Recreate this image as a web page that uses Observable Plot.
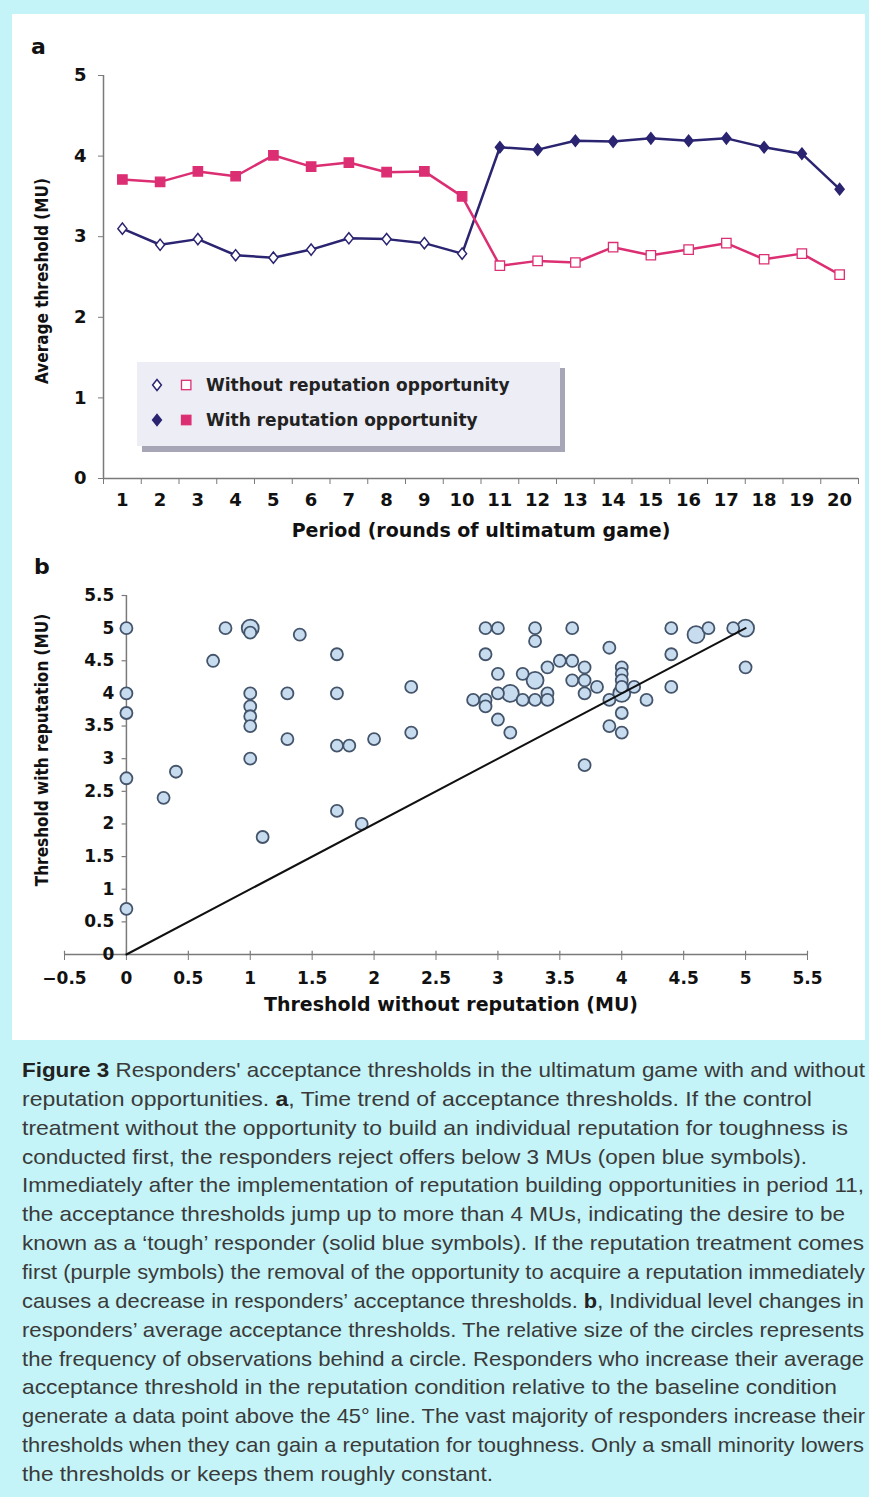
<!DOCTYPE html>
<html><head><meta charset="utf-8">
<script src="https://cdn.jsdelivr.net/npm/d3@7"></script>
<script src="https://cdn.jsdelivr.net/npm/@observablehq/plot@0.6"></script>
<style>
html,body{margin:0;padding:0}
body{width:869px;height:1497px;background:#c4f4f7;position:relative;overflow:hidden}
#white{position:absolute;left:12px;top:14px;width:853px;height:1026px;background:#fff}
.wrap{position:absolute;left:12px}
.plabel{position:absolute;font:bold 22px "DejaVu Sans",sans-serif;color:#111;line-height:1}
#legend{position:absolute;left:137px;top:362px;width:423px;height:84px;background:#ededf5;box-shadow:5px 6px 0 #a6a6b6}
#capwrap{position:absolute;left:0;top:1046px;width:869px;height:451px;overflow:hidden}
#caption{position:absolute;left:22px;top:10px;white-space:nowrap;font-family:"Liberation Sans",Arial,sans-serif;font-size:21px;line-height:28.86px;color:#3a3a3a}
#caption > div{height:28.86px}
#caption span{display:inline-block;transform-origin:0 50%}
#caption b{color:#222}
</style>
</head>
<body>
<div id="white"></div>
<div id="pa" class="wrap" style="top:14px"></div>
<div id="pb" class="wrap" style="top:545px"></div>
<div class="plabel" style="left:31px;top:36px">a</div>
<div class="plabel" style="left:34px;top:556px">b</div>
<div id="legend"></div>
<div id="capwrap"><div id="caption">
<div><span><b>Figure 3</b> Responders' acceptance thresholds in the ultimatum game with and without</span></div>
<div><span>reputation opportunities. <b>a</b>, Time trend of acceptance thresholds. If the control</span></div>
<div><span>treatment without the opportunity to build an individual reputation for toughness is</span></div>
<div><span>conducted first, the responders reject offers below 3 MUs (open blue symbols).</span></div>
<div><span>Immediately after the implementation of reputation building opportunities in period 11,</span></div>
<div><span>the acceptance thresholds jump up to more than 4 MUs, indicating the desire to be</span></div>
<div><span>known as a ‘tough’ responder (solid blue symbols). If the reputation treatment comes</span></div>
<div><span>first (purple symbols) the removal of the opportunity to acquire a reputation immediately</span></div>
<div><span>causes a decrease in responders’ acceptance thresholds. <b>b</b>, Individual level changes in</span></div>
<div><span>responders’ average acceptance thresholds. The relative size of the circles represents</span></div>
<div><span>the frequency of observations behind a circle. Responders who increase their average</span></div>
<div><span>acceptance threshold in the reputation condition relative to the baseline condition</span></div>
<div><span>generate a data point above the 45° line. The vast majority of responders increase their</span></div>
<div><span>thresholds when they can gain a reputation for toughness. Only a small minority lowers</span></div>
<div><span>the thresholds or keeps them roughly constant.</span></div>
</div></div>
<script>
// ---------- Panel a data ----------
const periods = [1,2,3,4,5,6,7,8,9,10,11,12,13,14,15,16,17,18,19,20];
// navy series: periods 1-10 without reputation (open), 11-20 with reputation (filled)
const navyValues = [3.10,2.90,2.97,2.77,2.74,2.84,2.98,2.97,2.92,2.79,4.11,4.08,4.19,4.18,4.22,4.19,4.22,4.11,4.03,3.59];
// pink series: periods 1-10 with reputation (filled), 11-20 without reputation (open)
const pinkValues = [3.71,3.68,3.81,3.75,4.01,3.87,3.92,3.80,3.81,3.50,2.64,2.70,2.68,2.87,2.77,2.84,2.92,2.72,2.79,2.53];
const yTicksA = [0,1,2,3,4,5];
const xTickMarksA = [0.5,1.5,2.5,3.5,4.5,5.5,6.5,7.5,8.5,9.5,10.5,11.5,12.5,13.5,14.5,15.5,16.5,17.5,18.5,19.5,20.5];
const legendLabels = ["Without reputation opportunity","With reputation opportunity"];

// ---------- Panel b data ----------
const bx = [0,0,0,0,0,0.3,0.4,0.7,0.8,1,1,1,1,1,1,1,1.1,1.3,1.3,1.4,1.7,1.7,1.7,1.8,1.7,1.9,2,2.3,2.3,
  2.9,3,3.3,3.3,3.6,2.9,3.9,3.0,3.2,3.4,3.5,3.6,3.7,3.6,3.7,3.3,3.8,2.8,2.9,2.9,3.0,3.1,3.2,3.3,3.4,3.4,3.7,3.9,3.0,3.1,3.9,4.0,4.0,3.7,
  4.0,4.0,4.0,4.0,4.0,4.1,4.2,4.4,4.6,4.7,4.9,5,5,4.4,4.4];
const by = [5,4,3.7,2.7,0.7,2.4,2.8,4.5,5,4.93,5,4,3.8,3.65,3.5,3,1.8,4,3.3,4.9,4.6,4,3.2,3.2,2.2,2,3.3,4.1,3.4,
  5,5,5,4.8,5,4.6,4.7,4.3,4.3,4.4,4.5,4.5,4.4,4.2,4.2,4.2,4.1,3.9,3.9,3.8,4.0,4.0,3.9,3.9,4.0,3.9,4.0,3.9,3.6,3.4,3.5,3.7,3.4,2.9,
  4.4,4.3,4.2,4.1,4.0,4.1,3.9,5,4.9,5,5,5,4.4,4.6,4.1];
const bn = [1,1,1,1,1,1,1,1,1,1,2,1,1,1,1,1,1,1,1,1,1,1,1,1,1,1,1,1,1,
  1,1,1,1,1,1,1,1,1,1,1,1,1,1,1,2,1,1,1,1,1,2,1,1,1,1,1,1,1,1,1,1,1,1,
  1,1,1,1,2,1,1,1,2,1,1,2,1,1,1];
const diagonal = [0,5];
const yTicksB = [0,0.5,1,1.5,2,2.5,3,3.5,4,4.5,5,5.5];
const xTicksB = [-0.5,0,0.5,1,1.5,2,2.5,3,3.5,4,4.5,5,5.5];

const NAVY = "#2a2471", PINK = "#dc2f73", AXIS = "#7a7a7a";
const FONT = "DejaVu Sans, sans-serif";
const COND = "DejaVu Sans Condensed, DejaVu Sans, sans-serif";

const wideDiamond = {draw(ctx, size){ const a = Math.sqrt(size/1.6), b = a*0.8;
  ctx.moveTo(0,-a); ctx.lineTo(b,0); ctx.lineTo(0,a); ctx.lineTo(-b,0); ctx.closePath(); }};

const navy = periods.map((p,i)=>({period:p, value:navyValues[i], filled:p>10}));
const pink = periods.map((p,i)=>({period:p, value:pinkValues[i], filled:p<=10}));
const fmt = d => String(d).replace("-", "\u2212");

const plotA = Plot.plot({
  width: 853, height: 531,
  marginLeft: 91, marginRight: 7, marginTop: 61, marginBottom: 67,
  x: {domain: [0.5, 20.5]},
  y: {domain: [0, 5]},
  color: {type: "identity"},
  style: {background: "transparent", overflow: "visible", fontFamily: FONT, fontSize: "18px", fontWeight: "bold", color: "#111"},
  marks: [
    Plot.ruleX([0.5], {y1: 0, y2: 5, stroke: AXIS, strokeWidth: 1.5}),
    Plot.ruleY([0], {stroke: AXIS, strokeWidth: 1.5}),
    Plot.axisY({ticks: yTicksA, tickSize: 5, tickPadding: 12, tickFormat: fmt, stroke: AXIS, fill: "#111", label: null}),
    Plot.axisX({ticks: xTickMarksA, tickSize: 6, tickFormat: () => "", stroke: AXIS, label: null}),
    Plot.axisX({ticks: periods, tickSize: 0, tickPadding: 15, fill: "#111", label: null}),
    Plot.text(["Average threshold (MU)"], {frameAnchor: "left", dx: -61, dy: 4, rotate: -90, fontSize: 17, fontFamily: COND, fill: "#111", textAnchor: "middle", lineAnchor: "middle"}),
    Plot.text(["Period (rounds of ultimatum game)"], {frameAnchor: "bottom", dx: 0, dy: 52, fontSize: 19, fill: "#111", textAnchor: "middle", lineAnchor: "middle"}),
    Plot.line(navy, {x: "period", y: "value", stroke: NAVY, strokeWidth: 2.5}),
    Plot.line(pink, {x: "period", y: "value", stroke: PINK, strokeWidth: 2.5}),
    Plot.dot(navy, {x: "period", y: "value", symbol: wideDiamond, r: 4, fill: d => d.filled ? NAVY : "white", stroke: NAVY, strokeWidth: 1.5}),
    Plot.dot(pink, {x: "period", y: "value", symbol: "square", r: 5.3, fill: d => d.filled ? PINK : "white", stroke: PINK, strokeWidth: 1.3})
  ]
});
document.getElementById("pa").appendChild(plotA);

const scatter = bx.map((x,i)=>({x, y: by[i], n: bn[i]}));
const plotB = Plot.plot({
  width: 853, height: 495,
  marginLeft: 52, marginRight: 58, marginTop: 50, marginBottom: 86,
  x: {domain: [-0.5, 5.5]},
  y: {domain: [0, 5.5], axis: null},
  r: {type: "sqrt", domain: [0, 2], range: [0, 8.5]},
  style: {background: "transparent", overflow: "visible", fontFamily: FONT, fontSize: "17px", fontWeight: "bold", color: "#111"},
  marks: [
    Plot.ruleY([0], {stroke: AXIS, strokeWidth: 1.5}),
    Plot.ruleX([0], {y1: 0, y2: 5.5, stroke: AXIS, strokeWidth: 1.5}),
    Plot.ruleY(yTicksB, {y: d => d, x1: -0.035, x2: 0, stroke: AXIS, strokeWidth: 1.2}),
    Plot.text(yTicksB, {x: 0, y: d => d, text: fmt, dx: -12, textAnchor: "end", fill: "#111"}),
    Plot.axisX({ticks: xTicksB, tickSize: 6, tickPadding: 11, tickFormat: fmt, stroke: AXIS, fill: "#111", label: null}),
    Plot.ruleX(xTicksB, {x: d => d, y1: 0, y2: 0.05, stroke: AXIS, strokeWidth: 1.2}),
    Plot.text(["Threshold with reputation (MU)"], {frameAnchor: "left", dx: -22, dy: -25, rotate: -90, fontSize: 17, fontFamily: COND, fill: "#111", textAnchor: "middle", lineAnchor: "middle"}),
    Plot.text(["Threshold without reputation (MU)"], {frameAnchor: "bottom", dx: 15, dy: 50, fontSize: 19, fill: "#111", textAnchor: "middle", lineAnchor: "middle"}),
    Plot.dot(scatter, {x: "x", y: "y", r: "n", fill: "#c8dcf0", stroke: "#44546a", strokeWidth: 1.8}),
    Plot.line(diagonal, {x: d => d, y: d => d, stroke: "#111", strokeWidth: 2})
  ]
});
document.getElementById("pb").appendChild(plotB);

// ---------- Legend ----------
const NS = "http://www.w3.org/2000/svg";
const lg = document.createElementNS(NS, "svg");
lg.setAttribute("width", 423); lg.setAttribute("height", 84);
const rows = [{y: 23, filled: false, label: legendLabels[0]}, {y: 58, filled: true, label: legendLabels[1]}];
rows.forEach(r => {
  const dm = document.createElementNS(NS, "path");
  dm.setAttribute("d", `M20,${r.y-5.5}L24.4,${r.y}L20,${r.y+5.5}L15.6,${r.y}Z`);
  dm.setAttribute("fill", r.filled ? NAVY : "white"); dm.setAttribute("stroke", NAVY); dm.setAttribute("stroke-width", 1.5);
  lg.appendChild(dm);
  const sq = document.createElementNS(NS, "rect");
  sq.setAttribute("x", 44.5); sq.setAttribute("y", r.y-4.7); sq.setAttribute("width", 9.4); sq.setAttribute("height", 9.4);
  sq.setAttribute("fill", r.filled ? PINK : "white"); sq.setAttribute("stroke", PINK); sq.setAttribute("stroke-width", 1.3);
  lg.appendChild(sq);
  const t = document.createElementNS(NS, "text");
  t.setAttribute("x", 69); t.setAttribute("y", r.y); t.setAttribute("dy", "0.35em");
  t.setAttribute("font-family", FONT); t.setAttribute("font-weight", "bold"); t.setAttribute("font-size", 17); t.setAttribute("fill", "#222");
  t.textContent = r.label;
  lg.appendChild(t);
});
document.getElementById("legend").appendChild(lg);

// ---------- Caption fit: each line scaled to the width it has in the figure (kept inside the page) ----------
const lineRight = [865, 812, 848, 807, 864, 845, 864, 865, 864, 864, 864, 837, 865, 864, 493];
document.querySelectorAll("#caption span").forEach((sp, i) => {
  const w = sp.getBoundingClientRect().width;
  sp.style.transform = `scaleX(${((lineRight[i] - 22) / w).toFixed(4)})`;
});
</script>
</body></html>
